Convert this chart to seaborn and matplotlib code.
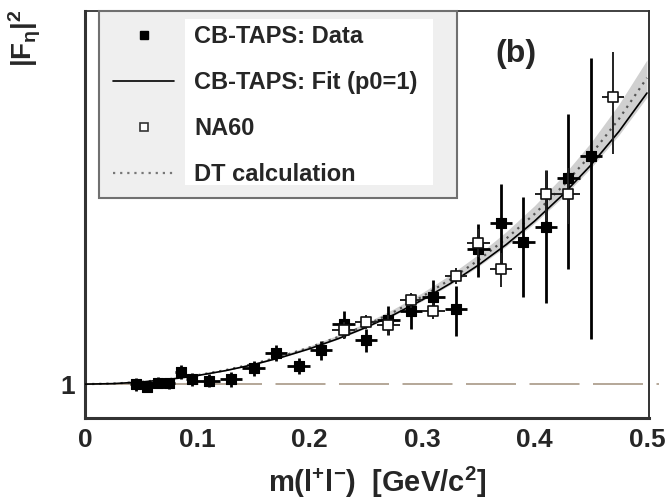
import numpy as np
import pandas as pd
import matplotlib
matplotlib.use("Agg")
import matplotlib.pyplot as plt
import seaborn as sns
from matplotlib.patches import Rectangle
from matplotlib.lines import Line2D
from matplotlib.ticker import NullLocator

# ---------------- data ----------------
cb_x = [0.045, 0.055, 0.065, 0.075, 0.085, 0.095, 0.11, 0.13, 0.15, 0.17, 0.19, 0.21,
        0.23, 0.25, 0.27, 0.29, 0.31, 0.33, 0.35, 0.37, 0.39, 0.41, 0.43, 0.45]
cb_y = [1.000, 0.988, 1.006, 1.003, 1.058, 1.022, 1.015, 1.022, 1.074, 1.153, 1.085, 1.168,
        1.313, 1.222, 1.339, 1.395, 1.489, 1.406, 1.851, 2.089, 1.915, 2.050, 2.560, 2.830]
cb_yerr = [0.030, 0.025, 0.025, 0.025, 0.035, 0.030, 0.030, 0.035, 0.035, 0.040, 0.040, 0.050,
           0.080, 0.065, 0.090, 0.110, 0.120, 0.160, 0.220, 0.400, 0.430, 0.600, 0.870, 1.600]
cb_xerr = [0.005, 0.005, 0.005, 0.005, 0.005, 0.005, 0.01, 0.01, 0.01, 0.01, 0.01, 0.01,
           0.01, 0.01, 0.01, 0.01, 0.01, 0.01, 0.01, 0.01, 0.01, 0.01, 0.01, 0.01]

na_x = [0.23, 0.25, 0.27, 0.29, 0.31, 0.33, 0.35, 0.37, 0.41, 0.43, 0.47]
na_y = [1.279, 1.328, 1.309, 1.467, 1.397, 1.640, 1.905, 1.687, 2.375, 2.375, 3.700]
na_yerr = [0.05, 0.04, 0.06, 0.05, 0.05, 0.06, 0.12, 0.13, 0.27, 0.30, 0.85]
na_xerr = [0.01, 0.01, 0.01, 0.01, 0.01, 0.01, 0.01, 0.01, 0.01, 0.01, 0.01]

curve_x = [0.0, 0.025, 0.05, 0.075, 0.1, 0.125, 0.15, 0.175, 0.2, 0.225, 0.25,
           0.275, 0.3, 0.325, 0.35, 0.375, 0.4, 0.425, 0.45, 0.475, 0.5]
fit_y = [1.0, 1.00243, 1.00977, 1.02218, 1.03996, 1.06350, 1.09337, 1.13032, 1.17533, 1.22968, 1.29500,
         1.37344, 1.46782, 1.58187, 1.72064, 1.89107, 2.10284, 2.36987, 2.71275, 3.16289, 3.77038]
dt_y = [1.0, 1.00252, 1.01013, 1.02300, 1.04145, 1.06590, 1.09698, 1.13549, 1.18250, 1.23940, 1.30799,
        1.39065, 1.49048, 1.61170, 1.76001, 1.94332, 2.17284, 2.46488, 2.84399, 3.34834, 4.04030]
band_lo = [1.0, 1.00240, 1.00967, 1.02195, 1.03953, 1.06281, 1.09234, 1.12885, 1.17330, 1.22692, 1.29132,
           1.36858, 1.46143, 1.57350, 1.70964, 1.87652, 2.08346, 2.34373, 2.67691, 3.11272, 3.69822]
band_hi = [1.0, 1.00262, 1.01053, 1.02394, 1.04314, 1.06866, 1.10112, 1.14144, 1.19077, 1.25065, 1.32308,
           1.41070, 1.51704, 1.64684, 1.80669, 2.00574, 2.25722, 2.58066, 3.00599, 3.58097, 4.38585]

xticks = [0.0, 0.1, 0.2, 0.3, 0.4, 0.5]
xticklabels = ["0", "0.1", "0.2", "0.3", "0.4", "0.5"]
yticks = [0.9, 1, 2, 3, 4, 5]
yticklabels = ["", "1", "", "", "", ""]
legend_labels = ["CB-TAPS: Data", "CB-TAPS: Fit (p0=1)", "NA60", "DT calculation"]

# ---------------- style ----------------
sns.set_style("white")
plt.rcParams["font.family"] = ["Liberation Sans", "DejaVu Sans"]
plt.rcParams["mathtext.fontset"] = "custom"
plt.rcParams["mathtext.rm"] = "Liberation Sans:bold"
plt.rcParams["mathtext.bf"] = "Liberation Sans:bold"
plt.rcParams["mathtext.it"] = "Liberation Sans:bold:italic"

fig = plt.figure(figsize=(6.65, 5.01), dpi=100)
ax = fig.add_axes([85 / 665, 1 - 418 / 501, 564 / 665, 407 / 501])
ax.set_yscale("log")

# band + curves
ax.fill_between(curve_x, band_lo, band_hi, color="#d0d0d0", lw=0, zorder=1)
sns.lineplot(x=curve_x, y=dt_y, ax=ax, color="#555555", linestyle=(0, (1, 2.2)), lw=1.6, zorder=2)
sns.lineplot(x=curve_x, y=fit_y, ax=ax, color="black", lw=1.2, zorder=3)

# reference line at 1
ax.axhline(1, xmin=0, xmax=1.018, color="#a89886", lw=1.2, dashes=(30, 8.1), clip_on=False, zorder=1.5)

# CB-TAPS data
ax.errorbar(cb_x, cb_y, yerr=cb_yerr, xerr=cb_xerr, fmt="none", ecolor="black",
            elinewidth=2.0, capsize=0, zorder=4)
sns.scatterplot(x=cb_x, y=cb_y, ax=ax, marker="s", s=60, color="black",
                edgecolor="black", linewidth=0.8, zorder=5)

# NA60 data
ax.errorbar(na_x, na_y, yerr=na_yerr, xerr=na_xerr, fmt="none", ecolor="#222222",
            elinewidth=1.4, capsize=0, zorder=6)
sns.scatterplot(x=na_x, y=na_y, ax=ax, marker="s", s=55, color="white",
                edgecolor="#111111", linewidth=1.2, zorder=7)

# axes
ax.set_xlim(0, 0.5018)
ax.set_ylim(0.857, 5.48)
ax.set_xticks(xticks)
ax.set_xticklabels(xticklabels)
ax.set_yticks(yticks)
ax.set_yticklabels(yticklabels)
ax.yaxis.set_minor_locator(NullLocator())
ax.xaxis.set_minor_locator(NullLocator())
ax.tick_params(axis="x", direction="in", length=8.5, width=1.6, color="#333333",
               labelsize=19, pad=7)
ax.tick_params(axis="y", direction="in", length=4.5, width=1.3, color="#333333",
               labelsize=19, pad=7)
for lab in ax.get_xticklabels() + ax.get_yticklabels():
    lab.set_fontweight("bold")
for side, lw in [("left", 2.2), ("bottom", 2.2), ("top", 1.3), ("right", 1.4)]:
    ax.spines[side].set_visible(True)
    ax.spines[side].set_linewidth(lw)
    ax.spines[side].set_color("#333333")

ax.set_xlabel(r"m(l$^{\mathbf{+}}$l$^{\mathbf{-}}$)  [GeV/c$^{\mathbf{2}}$]",
              fontsize=21, fontweight="bold")
ax.xaxis.set_label_coords(0.518, -0.115)
ax.set_ylabel("")
fig.text(0.038, 0.982, r"$\mathbf{|F_{\eta}|^{2}}$", rotation=90, ha="center", va="top",
         fontsize=20)

ax.text(0.764, 0.894, "(b)", transform=ax.transAxes, fontsize=23, fontweight="bold",
        ha="center", va="center", zorder=8)

# legend box
ax.add_patch(Rectangle((0.0248, 0.5405), 0.6348, 0.4595, transform=ax.transAxes,
                       facecolor="#efefef", edgecolor="#707070", lw=1.5, zorder=10, clip_on=False))
ax.add_patch(Rectangle((0.1773, 0.5725), 0.4397, 0.4078, transform=ax.transAxes,
                       facecolor="white", lw=0, zorder=11, clip_on=False))
handles = [
    Line2D([], [], marker="s", color="black", linestyle="none", markersize=6),
    Line2D([], [], color="black", lw=1.2),
    Line2D([], [], marker="s", markerfacecolor="white", markeredgecolor="#333333",
           markeredgewidth=1.2, linestyle="none", markersize=6),
    Line2D([], [], color="#777777", linestyle=(0, (1, 2.2)), lw=1.6),
]
leg = ax.legend(handles, legend_labels, loc="upper left", bbox_to_anchor=(0.0496, 0.966),
                frameon=False, prop={"weight": "bold", "size": 17}, handlelength=2.6,
                handletextpad=0.85, labelspacing=0.98, borderpad=0, borderaxespad=0)
leg.set_zorder(12)

fig.savefig("out.png", dpi=100)
